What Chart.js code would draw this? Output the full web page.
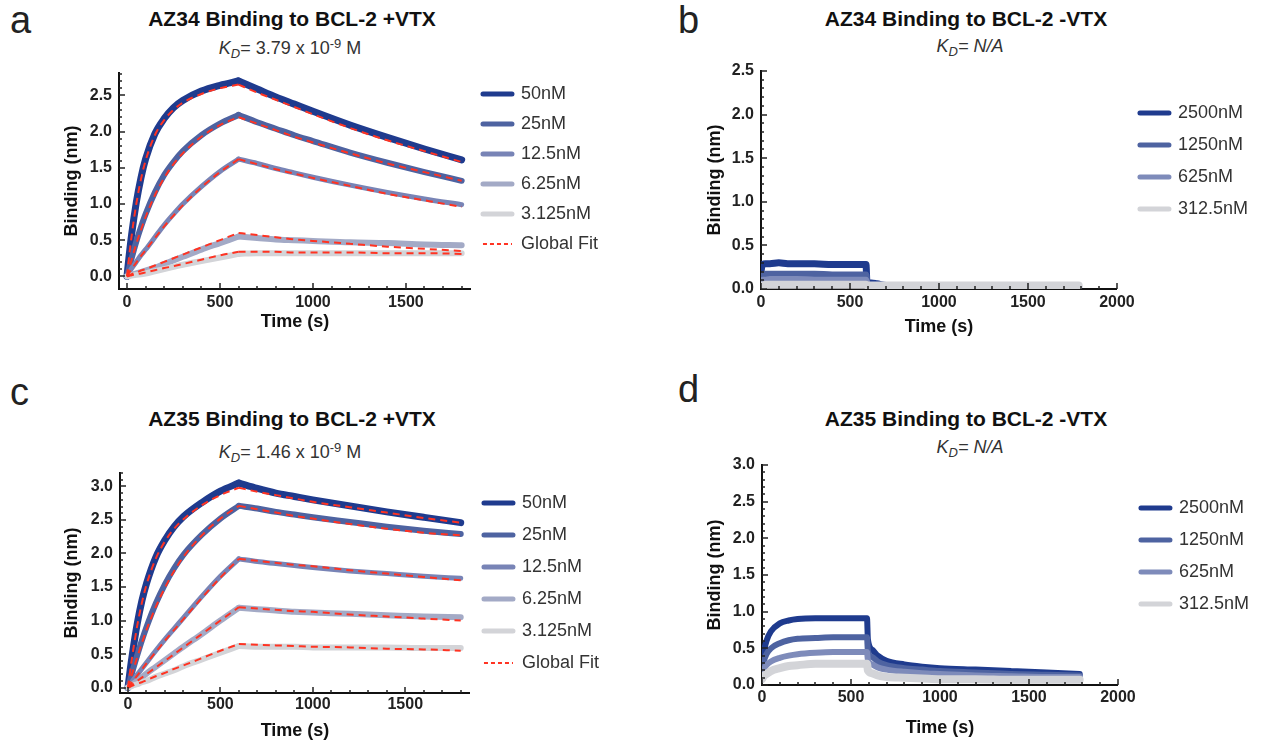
<!DOCTYPE html>
<html>
<head>
<meta charset="utf-8">
<script src="https://cdn.jsdelivr.net/npm/chart.js@4.4.0/dist/chart.umd.min.js"></script>
<style>
  body { margin: 0; background: #fff; width: 1267px; height: 744px; position: relative; overflow: hidden;
         font-family: "Liberation Sans", Arial, sans-serif; }
  canvas { position: absolute; }
  .letter { position: absolute; font-size: 38px; line-height: 40px; color: #222; }
  .title { position: absolute; font-weight: bold; font-size: 21px; color: #111; white-space: nowrap; transform: translate(-50%, -50%); }
  .kd { position: absolute; font-size: 18px; color: #333; white-space: nowrap; transform: translate(-50%, -50%); }
  .kd sub { font-size: 13px; vertical-align: -4px; }
  .kd sup { font-size: 13px; vertical-align: 6px; }
</style>
</head>
<body>
<div class="letter" style="left:10px;top:0px">a</div>
<div class="letter" style="left:678px;top:0px">b</div>
<div class="letter" style="left:10px;top:372px">c</div>
<div class="letter" style="left:678px;top:369px">d</div>

<div class="title" style="left:292px;top:19px">AZ34 Binding to BCL-2 +VTX</div>
<div class="kd" style="left:290px;top:48px"><i>K<sub>D</sub></i>= 3.79 x 10<sup>-9</sup> M</div>
<div class="title" style="left:966px;top:19px">AZ34 Binding to BCL-2 -VTX</div>
<div class="kd" style="left:970px;top:47px"><i>K<sub>D</sub>= N/A</i></div>
<div class="title" style="left:292px;top:419px">AZ35 Binding to BCL-2 +VTX</div>
<div class="kd" style="left:290px;top:452px"><i>K<sub>D</sub></i>= 1.46 x 10<sup>-9</sup> M</div>
<div class="title" style="left:966px;top:419px">AZ35 Binding to BCL-2 -VTX</div>
<div class="kd" style="left:970px;top:448px"><i>K<sub>D</sub>= N/A</i></div>

<canvas id="chartA" width="608" height="278" style="left:0px;top:55px"></canvas>
<canvas id="chartB" width="568" height="285" style="left:690px;top:53px"></canvas>
<canvas id="chartC" width="609" height="287" style="left:0px;top:455px"></canvas>
<canvas id="chartD" width="569" height="292" style="left:690px;top:447px"></canvas>

<script>
// sampling times (s)
var tPlus = [0, 10, 25, 50, 75, 100, 150, 200, 250, 300, 400, 500, 600, 700, 800, 900, 1000, 1200, 1400, 1600, 1800];
var tMinus = [0, 5, 10, 25, 50, 100, 150, 200, 300, 400, 500, 590, 595, 620, 650, 700, 800, 900, 1000, 1200, 1400, 1600, 1785];
var tSwitch = 600; // association -> dissociation

var concPlus = ['50nM', '25nM', '12.5nM', '6.25nM', '3.125nM'];
var concMinus = ['2500nM', '1250nM', '625nM', '312.5nM'];

// AZ34 +VTX, measured
var az34_50  = [0, 0.25, 0.58, 1.02, 1.36, 1.62, 1.97, 2.18, 2.33, 2.43, 2.56, 2.64, 2.70, 2.59, 2.48, 2.38, 2.28, 2.09, 1.92, 1.76, 1.61];
var az34_25  = [0, 0.10, 0.25, 0.48, 0.68, 0.86, 1.16, 1.40, 1.58, 1.73, 1.95, 2.11, 2.23, 2.13, 2.04, 1.95, 1.87, 1.71, 1.57, 1.44, 1.32];
var az34_12  = [0, 0.05, 0.11, 0.20, 0.29, 0.37, 0.54, 0.71, 0.86, 1.00, 1.24, 1.45, 1.62, 1.56, 1.49, 1.43, 1.37, 1.26, 1.16, 1.07, 0.99];
var az34_6   = [0, 0.01, 0.02, 0.04, 0.06, 0.08, 0.12, 0.17, 0.22, 0.27, 0.37, 0.46, 0.55, 0.53, 0.51, 0.50, 0.49, 0.47, 0.46, 0.44, 0.43];
var az34_3   = [0, 0.005, 0.01, 0.02, 0.03, 0.04, 0.07, 0.10, 0.13, 0.16, 0.21, 0.26, 0.31, 0.32, 0.32, 0.32, 0.32, 0.32, 0.32, 0.32, 0.32];
// AZ34 +VTX, global fit
var az34Fit_50 = [0, 0.24, 0.56, 1.00, 1.34, 1.60, 1.95, 2.16, 2.30, 2.40, 2.52, 2.60, 2.65, 2.54, 2.44, 2.34, 2.24, 2.05, 1.88, 1.73, 1.58];
var az34Fit_25 = [0, 0.09, 0.23, 0.45, 0.64, 0.82, 1.12, 1.36, 1.55, 1.70, 1.93, 2.09, 2.20, 2.11, 2.02, 1.93, 1.85, 1.70, 1.56, 1.44, 1.32];
var az34Fit_12 = [0, 0.04, 0.10, 0.19, 0.28, 0.36, 0.53, 0.69, 0.84, 0.98, 1.23, 1.44, 1.62, 1.55, 1.48, 1.42, 1.36, 1.25, 1.14, 1.05, 0.96];
var az34Fit_6  = [0, 0.01, 0.03, 0.05, 0.08, 0.10, 0.15, 0.20, 0.25, 0.30, 0.40, 0.50, 0.60, 0.57, 0.54, 0.51, 0.49, 0.45, 0.41, 0.38, 0.35];
var az34Fit_3  = [0, 0.006, 0.014, 0.03, 0.04, 0.055, 0.085, 0.115, 0.14, 0.17, 0.23, 0.29, 0.34, 0.34, 0.34, 0.33, 0.33, 0.33, 0.32, 0.32, 0.31];

// AZ35 +VTX, measured
var az35_50  = [0, 0.22, 0.52, 0.95, 1.29, 1.55, 1.94, 2.20, 2.40, 2.55, 2.76, 2.93, 3.05, 2.97, 2.90, 2.85, 2.80, 2.71, 2.62, 2.54, 2.46];
var az35_25  = [0, 0.10, 0.25, 0.48, 0.70, 0.90, 1.25, 1.54, 1.78, 1.98, 2.28, 2.52, 2.71, 2.67, 2.62, 2.58, 2.54, 2.47, 2.40, 2.34, 2.29];
var az35_12  = [0, 0.04, 0.10, 0.19, 0.28, 0.37, 0.55, 0.72, 0.88, 1.04, 1.36, 1.66, 1.92, 1.88, 1.85, 1.82, 1.79, 1.74, 1.70, 1.66, 1.63];
var az35_6   = [0, 0.02, 0.05, 0.10, 0.15, 0.21, 0.31, 0.41, 0.51, 0.61, 0.80, 1.00, 1.19, 1.17, 1.15, 1.13, 1.12, 1.10, 1.08, 1.06, 1.05];
var az35_3   = [0, 0.01, 0.03, 0.05, 0.08, 0.10, 0.16, 0.21, 0.26, 0.32, 0.42, 0.52, 0.62, 0.61, 0.61, 0.61, 0.60, 0.60, 0.60, 0.59, 0.59];
// AZ35 +VTX, global fit
var az35Fit_50 = [0, 0.21, 0.50, 0.92, 1.26, 1.53, 1.92, 2.18, 2.37, 2.51, 2.72, 2.87, 2.98, 2.92, 2.87, 2.82, 2.77, 2.69, 2.61, 2.53, 2.46];
var az35Fit_25 = [0, 0.09, 0.23, 0.45, 0.66, 0.86, 1.20, 1.49, 1.74, 1.95, 2.27, 2.52, 2.71, 2.66, 2.61, 2.56, 2.52, 2.44, 2.37, 2.31, 2.27];
var az35Fit_12 = [0, 0.04, 0.09, 0.18, 0.27, 0.36, 0.53, 0.70, 0.86, 1.02, 1.34, 1.64, 1.92, 1.89, 1.86, 1.83, 1.81, 1.75, 1.70, 1.65, 1.60];
var az35Fit_6  = [0, 0.02, 0.05, 0.10, 0.15, 0.20, 0.30, 0.40, 0.50, 0.60, 0.80, 1.00, 1.20, 1.18, 1.16, 1.14, 1.13, 1.09, 1.06, 1.03, 1.00];
var az35Fit_3  = [0, 0.01, 0.03, 0.06, 0.08, 0.11, 0.17, 0.22, 0.28, 0.33, 0.44, 0.55, 0.65, 0.64, 0.63, 0.62, 0.61, 0.60, 0.58, 0.57, 0.55];

// AZ34 -VTX
var az34m_2500 = [0.20, 0.26, 0.28, 0.29, 0.29, 0.30, 0.29, 0.29, 0.29, 0.28, 0.28, 0.28, 0.09, 0.07, 0.06, 0.04, 0.01, -0.01, -0.01, -0.01, -0.01, -0.02, -0.02];
var az34m_1250 = [0.12, 0.15, 0.16, 0.17, 0.17, 0.17, 0.17, 0.17, 0.17, 0.16, 0.16, 0.16, 0.05, 0.04, 0.04, 0.03, 0.02, 0.02, 0.02, 0.02, 0.02, 0.02, 0.02];
var az34m_625  = [0.07, 0.09, 0.10, 0.10, 0.11, 0.11, 0.11, 0.11, 0.10, 0.10, 0.10, 0.10, 0.04, 0.03, 0.03, 0.03, 0.03, 0.03, 0.03, 0.03, 0.03, 0.03, 0.03];
var az34m_312  = [0.03, 0.04, 0.04, 0.05, 0.05, 0.05, 0.05, 0.05, 0.05, 0.05, 0.05, 0.05, 0.04, 0.04, 0.04, 0.04, 0.04, 0.04, 0.04, 0.04, 0.04, 0.04, 0.04];

// AZ35 -VTX
var az35m_2500 = [0.22, 0.35, 0.45, 0.60, 0.73, 0.84, 0.88, 0.90, 0.91, 0.91, 0.91, 0.91, 0.62, 0.48, 0.40, 0.33, 0.28, 0.25, 0.23, 0.21, 0.19, 0.17, 0.15];
var az35m_1250 = [0.15, 0.25, 0.32, 0.42, 0.50, 0.57, 0.61, 0.63, 0.64, 0.65, 0.65, 0.65, 0.46, 0.38, 0.32, 0.27, 0.23, 0.21, 0.19, 0.17, 0.15, 0.14, 0.13];
var az35m_625  = [0.12, 0.17, 0.21, 0.27, 0.32, 0.37, 0.40, 0.42, 0.44, 0.45, 0.45, 0.45, 0.34, 0.28, 0.24, 0.21, 0.18, 0.16, 0.15, 0.13, 0.12, 0.11, 0.11];
var az35m_312  = [0.08, 0.10, 0.12, 0.15, 0.19, 0.23, 0.26, 0.27, 0.29, 0.29, 0.29, 0.29, 0.20, 0.16, 0.13, 0.11, 0.10, 0.09, 0.08, 0.08, 0.07, 0.07, 0.07];

var xTicksPlus = [0, 500, 1000, 1500];
var xTicksMinus = [0, 500, 1000, 1500, 2000];

var colors = ['#1f3b8e', '#4e63a1', '#7884b6', '#a3aac6', '#d3d4d8'];
var colorsMinus = ['#1f3b8e', '#4e63a1', '#7e8bba', '#d3d4d8'];
var fitColor = '#ff3322';
var FONT = '"Liberation Sans", Arial, sans-serif';

function pts(times, vals) {
  return times.map(function (t, i) { return {x: t, y: vals[i]}; });
}

// little inward tick marks like the original plot
var innerTicks = {
  id: 'innerTicks',
  afterDraw: function (chart, args, opts) {
    var ctx = chart.ctx, area = chart.chartArea, x = chart.scales.x, y = chart.scales.y;
    ctx.save();
    ctx.strokeStyle = '#222';
    ctx.lineWidth = 1.5;
    ctx.beginPath();
    for (var v = 0; v <= opts.xMax; v += 100) {
      var px = Math.round(x.getPixelForValue(v));
      var len = v % 500 === 0 ? 6 : 3;
      ctx.moveTo(px, area.bottom);
      ctx.lineTo(px, area.bottom - len);
    }
    for (var i = 0; i <= Math.round(opts.yMax * 10); i++) {
      var py = Math.round(y.getPixelForValue(i / 10));
      var l2 = i % 5 === 0 ? 6 : 3;
      ctx.moveTo(area.left, py);
      ctx.lineTo(area.left + l2, py);
    }
    ctx.stroke();
    ctx.restore();
  }
};

function lineSet(label, data, color, width, order) {
  return {
    label: label, data: data,
    borderColor: color, backgroundColor: color, borderWidth: width,
    pointRadius: 0, cubicInterpolationMode: 'monotone',
    borderJoinStyle: 'round', borderCapStyle: 'round', order: order
  };
}

function fitSet(data) {
  return {
    label: 'Global Fit', data: data,
    borderColor: fitColor, backgroundColor: fitColor, borderWidth: 2, borderDash: [7, 5],
    pointRadius: 0, cubicInterpolationMode: 'monotone', order: 0
  };
}

function makeChart(id, cfg) {
  var datasets = [];
  var n = cfg.series.length;
  if (cfg.fits) {
    // split at the switch so the peak stays sharp: association sets first (they carry the legend)
    var k = cfg.times.indexOf(tSwitch);
    var tA = cfg.times.slice(0, k + 1), tD = cfg.times.slice(k);
    cfg.series.forEach(function (v, i) { datasets.push(lineSet(cfg.labels[i], pts(tA, v.slice(0, k + 1)), cfg.colors[i], cfg.widths[i], n - i + 1)); });
    cfg.fits.forEach(function (v) { datasets.push(fitSet(pts(tA, v.slice(0, k + 1)))); });
    cfg.series.forEach(function (v, i) { datasets.push(lineSet(cfg.labels[i], pts(tD, v.slice(k)), cfg.colors[i], cfg.widths[i], n - i + 1)); });
    cfg.fits.forEach(function (v) { datasets.push(fitSet(pts(tD, v.slice(k)))); });
  } else {
    cfg.series.forEach(function (v, i) { datasets.push(lineSet(cfg.labels[i], pts(cfg.times, v), cfg.colors[i], cfg.widths[i], n - i + 1)); });
  }
  var nShow = n + (cfg.fits ? 1 : 0);

  return new Chart(document.getElementById(id), {
    type: 'line',
    data: {datasets: datasets},
    plugins: [innerTicks],
    options: {
      responsive: false,
      animation: false,
      devicePixelRatio: 1,
      events: [],
      layout: {padding: {left: cfg.padLeft, top: 18, right: 0, bottom: 0}},
      scales: {
        x: {
          type: 'linear',
          min: cfg.xMin, max: cfg.xMax,
          afterBuildTicks: function (s) { s.ticks = cfg.xTicks.map(function (v) { return {value: v}; }); },
          afterFit: function (s) { s.height = cfg.xHeight; },
          ticks: {font: {size: 16, weight: 'bold', family: FONT}, color: '#222', padding: cfg.xPad, maxRotation: 0,
                  callback: function (v) { return String(v); }},
          grid: {display: false, drawTicks: false},
          border: {color: '#111', width: 2},
          title: {display: true, text: 'Time (s)', font: {size: 18, weight: 'bold', family: FONT}, color: '#111', padding: 0}
        },
        y: {
          type: 'linear',
          min: cfg.yMin, max: cfg.yMax,
          afterBuildTicks: function (s) { s.ticks = cfg.yTicks.map(function (v) { return {value: v}; }); },
          afterFit: function (s) { s.width = cfg.yWidth; },
          ticks: {font: {size: 16, weight: 'bold', family: FONT}, color: '#222', padding: 7,
                  callback: function (v) { return Number(v).toFixed(1); }},
          grid: {display: false, drawTicks: false},
          border: {color: '#111', width: 2},
          title: {display: true, text: 'Binding (nm)', font: {size: 18, weight: 'bold', family: FONT}, color: '#111', padding: 0}
        },
        gap: {
          type: 'linear', position: 'right', display: cfg.gap > 0,
          ticks: {display: false}, grid: {display: false, drawTicks: false}, border: {display: false},
          afterFit: function (s) { s.width = cfg.gap; }
        }
      },
      plugins: {
        innerTicks: {xMax: cfg.xTickMax, yMax: cfg.yTickMax},
        tooltip: {enabled: false},
        legend: {
          position: 'right',
          align: 'start',
          maxWidth: 200,
          title: {display: cfg.legendTop > 0, text: ' ', font: {size: 1}, padding: {top: 0, bottom: cfg.legendTop - 1.2}},
          labels: {
            usePointStyle: true,
            pointStyle: 'line',
            pointStyleWidth: 29,
            boxWidth: 29,
            padding: cfg.legendPad,
            color: '#333',
            font: {size: 18, family: FONT},
            filter: function (item) { return item.datasetIndex < nShow; },
            sort: function (a, b) { return a.datasetIndex - b.datasetIndex; },
            generateLabels: function (chart) {
              return Chart.defaults.plugins.legend.labels.generateLabels(chart).map(function (it) {
                if (it.text === 'Global Fit') {
                  it.lineDash = [4, 3];
                  it.lineWidth = 2;
                  it.lineCap = 'butt';
                } else {
                  it.lineWidth = 5;
                  it.lineCap = 'round';
                }
                return it;
              });
            }
          }
        }
      }
    }
  });
}

makeChart('chartA', {
  times: tPlus, labels: concPlus, colors: colors, widths: [7, 6, 5, 6, 6],
  series: [az34_50, az34_25, az34_12, az34_6, az34_3],
  fits: [az34Fit_50, az34Fit_25, az34Fit_12, az34Fit_6, az34Fit_3],
  xMin: -43, xMax: 1850, xTicks: xTicksPlus, xTickMax: 1800,
  yMin: -0.175, yMax: 2.81, yTicks: [0, 0.5, 1, 1.5, 2, 2.5], yTickMax: 2.8,
  padLeft: 61, yWidth: 58, xHeight: 44, xPad: 4, gap: 0, legendPad: 12, legendTop: 0
});

makeChart('chartB', {
  times: tMinus, labels: concMinus, colors: colorsMinus, widths: [7, 7, 7, 8],
  series: [az34m_2500, az34m_1250, az34m_625, az34m_312],
  xMin: 0, xMax: 2000, xTicks: xTicksMinus, xTickMax: 2000,
  yMin: 0, yMax: 2.5, yTicks: [0, 0.5, 1, 1.5, 2, 2.5], yTickMax: 2.5,
  padLeft: 14, yWidth: 57, xHeight: 49, xPad: 4, gap: 9, legendPad: 14, legendTop: 19
});

makeChart('chartC', {
  times: tPlus, labels: concPlus, colors: colors, widths: [7, 6, 5, 6, 6],
  series: [az35_50, az35_25, az35_12, az35_6, az35_3],
  fits: [az35Fit_50, az35Fit_25, az35Fit_12, az35Fit_6, az35Fit_3],
  xMin: -43, xMax: 1850, xTicks: xTicksPlus, xTickMax: 1800,
  yMin: -0.08, yMax: 3.2, yTicks: [0, 0.5, 1, 1.5, 2, 2.5, 3], yTickMax: 3.2,
  padLeft: 61, yWidth: 59, xHeight: 49, xPad: 2, gap: 0, legendPad: 14, legendTop: 7
});

makeChart('chartD', {
  times: tMinus, labels: concMinus, colors: colorsMinus, widths: [6, 6, 6, 8],
  series: [az35m_2500, az35m_1250, az35m_625, az35m_312],
  xMin: 0, xMax: 2000, xTicks: xTicksMinus, xTickMax: 2000,
  yMin: 0, yMax: 3.0, yTicks: [0, 0.5, 1, 1.5, 2, 2.5, 3], yTickMax: 3.0,
  padLeft: 14, yWidth: 58, xHeight: 54, xPad: 3, gap: 9, legendPad: 14, legendTop: 20
});
</script>
</body>
</html>
